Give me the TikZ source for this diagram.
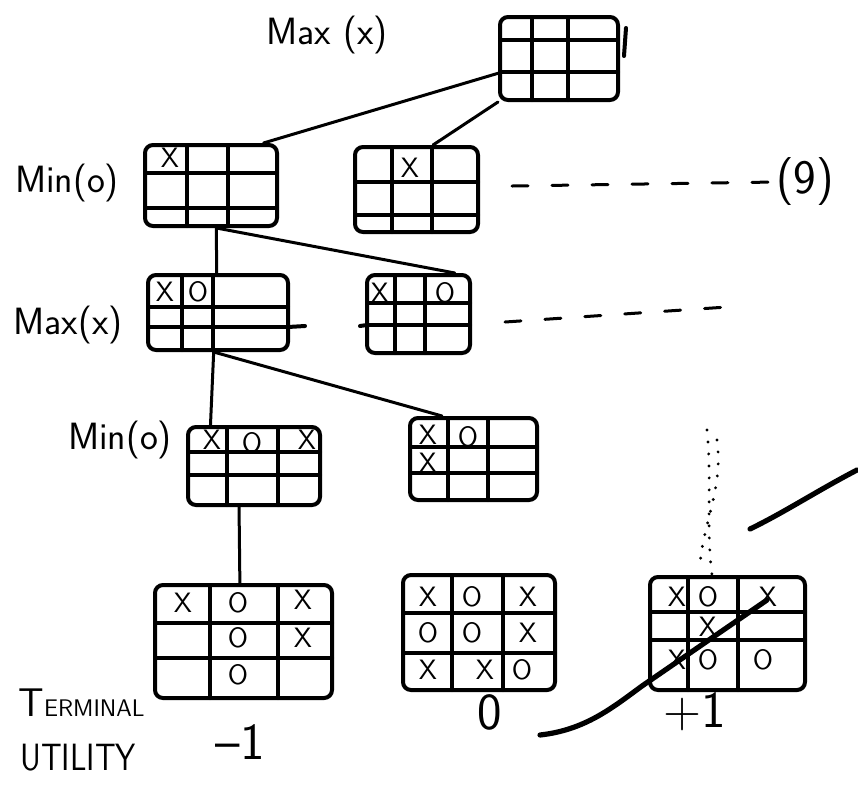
\documentclass[tikz,border=0pt]{standalone}
\usetikzlibrary{calc,fit}
\begin{document}
\begin{tikzpicture}[x=0.5pt,y=-0.5pt,
  boardbox/.style={draw, line width=2pt, rounded corners=4pt, inner sep=0pt},
  gridline/.style={line width=2pt, line cap=round},
  conn/.style={line width=1.5pt, line cap=round},
  cellmark/.style={font=\sffamily\fontsize{14}{14}\selectfont, inner sep=0pt},
  lbl/.style={font=\sffamily\fontsize{19}{21}\selectfont, inner sep=0pt},
  val/.style={font=\sffamily\fontsize{26}{28}\selectfont, inner sep=0pt},
  dashline/.style={line width=1.5pt, dash pattern=on 8pt off 12pt, line cap=round},
  dotline/.style={line width=1.6pt, dash pattern=on 0pt off 6pt, line cap=round},
  stroke/.style={line width=2.6pt, line cap=round}]
\useasboundingbox (0,0) rectangle (858,800);
\fill[white] (0,0) rectangle (858,800);

% board macro: name, x1, y1, x2, y2, v1, v2, h1, h2
\newcommand\tttboard[9]{%
  \node[boardbox, fit={(#2,#3)(#4,#5)}] (#1) {};
  \draw[gridline] (#6,#3) -- (#6,#5) (#7,#3) -- (#7,#5)
                  (#2,#8) -- (#4,#8) (#2,#9) -- (#4,#9);
}

% root
\tttboard{root}{500}{17}{618}{100}{532}{568}{40}{72}
\draw[gridline] (626,28) -- (624,56);

% level 1 (Min)
\tttboard{aone}{145}{145}{277}{226}{187}{228}{173}{208}
\node[cellmark] at (170,158) {X};
\tttboard{bone}{355}{147}{478}{232}{392}{432}{182}{215}
\node[cellmark] at (410,168) {X};

% level 2 (Max)
\tttboard{maxa}{148}{275}{288}{350}{182}{213}{307}{327}
\draw[gridline] (288,327) -- (305,326);
\node[cellmark] at (165,292) {X};
\node[cellmark] at (198,292) {O};
\tttboard{maxb}{367}{275}{470}{353}{395}{425}{303}{325}
\draw[gridline] (360,326) -- (367,325);
\node[cellmark] at (380,293) {X};
\node[cellmark] at (445,293) {O};

% level 3 (Min)
\tttboard{mina}{188}{427}{320}{505}{227}{278}{452}{475}
\node[cellmark] at (212,440) {X};
\node[cellmark] at (252,443) {O};
\node[cellmark] at (307,440) {X};
\tttboard{minb}{410}{418}{537}{500}{448}{488}{447}{473}
\node[cellmark] at (428,435) {X};
\node[cellmark] at (468,437) {O};
\node[cellmark] at (428,463) {X};

% leaves
\tttboard{leafa}{155}{585}{332}{698}{210}{278}{623}{658}
\node[cellmark] at (183,603) {X};
\node[cellmark] at (238,603) {O};
\node[cellmark] at (303,600) {X};
\node[cellmark] at (238,638) {O};
\node[cellmark] at (303,638) {X};
\node[cellmark] at (238,675) {O};
\tttboard{leafb}{403}{575}{555}{690}{452}{503}{613}{653}
\node[cellmark] at (428,597) {X};
\node[cellmark] at (472,597) {O};
\node[cellmark] at (528,597) {X};
\node[cellmark] at (428,633) {O};
\node[cellmark] at (472,633) {O};
\node[cellmark] at (528,633) {X};
\node[cellmark] at (428,670) {X};
\node[cellmark] at (485,670) {X};
\node[cellmark] at (522,670) {O};
\tttboard{leafc}{650}{577}{805}{690}{688}{738}{612}{640}
\node[cellmark] at (677,597) {X};
\node[cellmark] at (708,597) {O};
\node[cellmark] at (768,597) {X};
\node[cellmark] at (708,627) {X};
\node[cellmark] at (677,660) {X};
\node[cellmark] at (708,660) {O};
\node[cellmark] at (763,660) {O};

% connectors
\draw[conn] ($(root.north west)!0.67!(root.south west)$) -- ($(aone.north west)!0.886!(aone.north east)$);
\draw[conn] (root.south west) -- ($(bone.north west)!0.63!(bone.north east)$);
\coordinate (aonebot) at ($(aone.south west)!0.54!(aone.south east)$);
\draw[conn] (aonebot) -- ($(maxa.north west)!0.49!(maxa.north east)$);
\draw[conn] (aonebot) -- ($(maxb.north west)!0.84!(maxb.north east)$);
\coordinate (maxabot) at ($(maxa.south west)!0.47!(maxa.south east)$);
\draw[conn] (maxabot) -- ($(mina.north west)!0.18!(mina.north east)$);
\draw[conn] (maxabot) -- ($(minb.north west)!0.26!(minb.north east)$);
\draw[conn] ($(mina.south west)!0.39!(mina.south east)$) -- ($(leafa.north west)!0.48!(leafa.north east)$);

% continuation dashes
\node[lbl, font=\sffamily\fontsize{24}{26}\selectfont] (nine) at (805,182) {(9)};
\coordinate (dashendone) at (512,186);
\draw[dashline] (dashendone) -- (nine.west);
\coordinate (dashstarttwo) at (505,322);
\coordinate (dashendtwo) at (742,306);
\draw[dashline] (dashstarttwo) -- (dashendtwo);

% dotted trail
\draw[dotline] (707,430) .. controls (712,480) and (706,530) .. (712,575);
\draw[dotline] (717,440) .. controls (724,490) and (700,530) .. (700,570);

% strokes
\draw[stroke] (857,470) .. controls (815,492) and (785,512) .. (750,529);
\draw[stroke] (540,735) .. controls (585,730) and (612,708) .. (642,686) -- (767,600);

% level labels
\node[lbl] (lmax1) at (327,35) {Max (x)};
\node[lbl] (lmin1) at (67,183) {Min(o)};
\node[lbl] (lmax2) at (68,325) {Max(x)};
\node[lbl] (lmin2) at (120,440) {Min(o)};
\node[lbl, anchor=west] (lterm) at (18,703) {{\fontsize{20}{20}\selectfont T}{\fontsize{12}{12}\selectfont ERMINAL}};
\node[lbl, anchor=west, font=\sffamily\fontsize{19}{21}\selectfont, xscale=0.85] (lutil) at (20,758) {UTILITY};

% utilities
\node[val] (ua) at (240,742) {\textendash1};
\node[val] (ub) at (490,712) {0};
\node[val] (uc) at (695,712) {+1};
\end{tikzpicture}
\end{document}
